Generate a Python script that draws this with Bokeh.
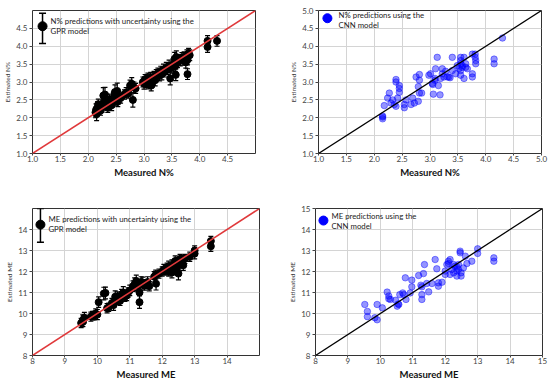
from bokeh.plotting import figure
from bokeh.layouts import column, row
from bokeh.models import (FixedTicker, PrintfTickFormatter, Slope, Whisker, TeeHead,
                          Range1d, Label, ColumnDataSource)
from bokeh.embed import file_html
from bokeh.resources import INLINE

# ---------------- data ----------------
# GPR, N%
gpr_n_meas = [2.13, 2.14, 2.15, 2.17, 2.18, 2.20, 2.22, 2.25, 2.27, 2.28, 2.30, 2.32, 2.35, 2.37,
              2.38, 2.40, 2.42, 2.45, 2.47, 2.48, 2.50, 2.52, 2.53, 2.55, 2.58, 2.65, 2.68, 2.72,
              2.75, 2.78, 2.80, 2.82, 2.85,
              2.98, 3.00, 3.02, 3.05, 3.07, 3.08, 3.10, 3.12, 3.13, 3.15, 3.18, 3.20, 3.22, 3.25,
              3.28, 3.30, 3.32, 3.35, 3.37, 3.40, 3.42, 3.45, 3.47, 3.50, 3.52, 3.55, 3.56, 3.57,
              3.58, 3.60, 3.62, 3.65, 3.68, 3.70, 3.72, 3.75, 3.77, 3.78, 3.80, 3.82, 3.78,
              4.14, 4.14, 4.31]
gpr_n_est = [2.15, 2.22, 2.10, 2.30, 2.38, 2.25, 2.20, 2.30, 2.62, 2.45, 2.65, 2.35, 2.28, 2.40,
             2.50, 2.45, 2.35, 2.55, 2.62, 2.72, 2.50, 2.75, 2.45, 2.58, 2.55, 2.65, 2.70, 2.68,
             2.90, 2.95, 2.50, 2.85, 2.82,
             3.00, 2.95, 3.08, 3.00, 3.10, 2.95, 3.05, 3.12, 2.90, 3.00, 3.15, 3.05, 3.20, 3.25,
             3.18, 3.30, 3.22, 3.35, 3.28, 3.40, 3.35, 3.45, 3.10, 3.40, 3.50, 3.65, 3.45, 3.20,
             3.70, 3.55, 3.62, 3.60, 3.68, 3.62, 3.70, 3.55, 3.75, 3.22, 3.80, 3.75, 3.62,
             4.15, 3.98, 4.15]
gpr_n_err = [0.15, 0.17, 0.18, 0.15, 0.14, 0.15, 0.13, 0.14, 0.22, 0.15, 0.20, 0.14, 0.13, 0.15,
             0.16, 0.14, 0.15, 0.16, 0.15, 0.20, 0.15, 0.22, 0.14, 0.15, 0.14, 0.13, 0.14, 0.13,
             0.15, 0.17, 0.20, 0.15, 0.14,
             0.14, 0.15, 0.13, 0.16, 0.15, 0.14, 0.17, 0.15, 0.15, 0.14, 0.15, 0.16, 0.15, 0.14,
             0.15, 0.14, 0.16, 0.15, 0.14, 0.15, 0.14, 0.16, 0.18, 0.15, 0.14, 0.18, 0.15, 0.16,
             0.17, 0.15, 0.14, 0.15, 0.14, 0.15, 0.14, 0.16, 0.15, 0.15, 0.14, 0.15, 0.14,
             0.15, 0.15, 0.15]

# CNN, N%
cnn_n_meas = [2.15, 2.15, 2.15, 2.18, 2.27, 2.24, 2.30, 2.33, 2.36, 2.39, 2.39, 2.39, 2.42,
              2.45, 2.45, 2.45, 2.54, 2.54, 2.57, 2.66, 2.69, 2.72, 2.75, 2.81, 2.81, 2.79,
              2.81, 2.85, 2.79, 2.98, 3.01, 3.04, 3.06, 3.09, 3.09, 3.13, 3.10, 3.15, 3.18,
              3.19, 3.22, 3.22, 3.25, 3.31, 3.34, 3.40, 3.40, 3.46, 3.49, 3.55, 3.55, 3.55,
              3.55, 3.55, 3.58, 3.58, 3.61, 3.61, 3.64, 3.64, 3.67, 3.76, 3.76, 3.76, 3.81,
              3.81, 3.82, 3.82, 4.15, 4.15, 4.30, 3.05, 3.36, 3.28, 3.52]
cnn_n_est = [2.05, 1.97, 2.02, 2.34, 2.69, 2.55, 2.41, 2.50, 2.37, 3.07, 3.00, 2.32, 2.55,
             2.90, 2.82, 2.71, 2.37, 2.28, 2.50, 2.37, 2.55, 2.41, 3.14, 3.21, 3.05, 2.87,
             2.69, 2.69, 2.46, 3.19, 3.23, 2.96, 2.66, 3.10, 3.05, 3.69, 3.37, 2.90, 2.64,
             3.10, 3.37, 3.23, 3.14, 3.14, 3.14, 3.69, 3.32, 3.23, 3.46, 3.69, 3.60, 3.51,
             3.32, 3.19, 3.46, 3.41, 3.69, 3.10, 3.51, 3.41, 3.37, 3.78, 3.23, 3.14, 3.78,
             3.69, 3.60, 3.51, 3.64, 3.51, 4.23, 2.93, 3.12, 3.30, 3.38]

# GPR, ME
gpr_me_meas = [9.50, 9.55, 9.60, 9.55, 9.80, 9.90, 9.95, 10.00, 9.85, 10.04, 10.20, 10.25, 10.30,
               10.35, 10.45, 10.50, 10.55, 10.60, 10.65, 10.70, 10.75, 10.80, 10.85, 10.90,
               10.95, 11.00, 11.15, 11.20, 11.25, 11.30, 11.30, 11.35, 11.40, 11.45, 11.50,
               11.55, 11.60, 11.75, 11.80, 11.81, 11.90, 12.00, 12.05, 12.10, 12.15, 12.20,
               12.25, 12.30, 12.35, 12.40, 12.45, 12.50, 12.50, 12.55, 12.60, 12.65, 12.70,
               12.40, 12.30, 12.55, 12.85, 13.00, 13.00, 13.50, 13.50, 11.10, 10.62, 12.20]
gpr_me_est = [9.55, 9.65, 9.80, 9.60, 9.85, 9.90, 10.00, 9.95, 9.90, 10.54, 10.95, 10.98, 10.25,
              10.30, 10.50, 10.40, 10.80, 10.65, 10.70, 10.60, 10.90, 11.00, 10.80, 10.85,
              11.00, 11.10, 11.40, 11.55, 11.30, 11.00, 10.54, 11.50, 11.45, 11.35, 11.40,
              11.50, 11.30, 11.75, 11.85, 11.42, 11.90, 12.00, 12.10, 12.05, 12.15, 12.25,
              12.10, 12.30, 12.20, 12.35, 12.10, 11.90, 12.45, 12.40, 12.55, 12.30, 12.60,
              12.50, 11.95, 12.60, 12.70, 12.85, 13.00, 13.45, 13.20, 11.30, 10.75, 12.00]
gpr_me_err = [0.22, 0.28, 0.25, 0.22, 0.22, 0.20, 0.22, 0.24, 0.20, 0.25, 0.30, 0.28, 0.22,
              0.20, 0.22, 0.25, 0.28, 0.22, 0.24, 0.22, 0.25, 0.28, 0.22, 0.24,
              0.22, 0.25, 0.30, 0.28, 0.25, 0.35, 0.30, 0.25, 0.28, 0.24, 0.22,
              0.25, 0.22, 0.25, 0.22, 0.30, 0.22, 0.22, 0.24, 0.22, 0.25, 0.24,
              0.22, 0.25, 0.22, 0.24, 0.25, 0.30, 0.22, 0.24, 0.22, 0.25, 0.22,
              0.24, 0.25, 0.22, 0.22, 0.25, 0.22, 0.22, 0.24, 0.25, 0.28, 0.22]

# CNN, ME
cnn_me_meas = [9.52, 9.60, 9.60, 9.90, 9.83, 9.90, 10.06, 10.21, 10.26, 10.26, 10.31, 10.47,
               10.52, 10.57, 10.60, 10.69, 10.72, 10.77, 10.79, 10.92, 10.97, 10.97, 11.18,
               11.28, 11.28, 11.28, 11.33, 11.36, 11.43, 11.49, 11.59, 11.69, 11.74, 11.79,
               11.79, 11.90, 12.00, 12.00, 12.05, 12.10, 12.10, 12.15, 12.15, 12.20, 12.26,
               12.26, 12.36, 12.36, 12.36, 12.41, 12.41, 12.46, 12.46, 12.49, 12.49, 12.56,
               12.62, 12.67, 12.82, 13.00, 13.00, 13.50, 13.50, 10.55, 11.25, 12.30]
cnn_me_est = [10.43, 10.10, 9.85, 10.43, 9.80, 9.70, 10.27, 11.02, 10.83, 10.70, 10.67, 10.63,
              10.35, 10.43, 10.90, 10.98, 10.90, 11.70, 10.67, 10.98, 11.59, 11.27, 11.81,
              11.27, 10.90, 10.67, 11.90, 12.33, 11.43, 11.03, 11.43, 12.57, 12.13, 11.46,
              11.30, 11.49, 12.02, 11.86, 12.33, 12.49, 12.38, 12.57, 11.86, 12.10, 12.33,
              11.94, 12.22, 12.02, 11.78, 12.33, 12.10, 12.97, 12.89, 11.78, 11.94, 12.17,
              12.73, 12.38, 12.49, 13.08, 12.86, 12.65, 12.49, 10.45, 11.35, 12.25]

N_TICKS_GPR = [1.0, 1.5, 2.0, 2.5, 3.0, 3.5, 4.0, 4.5]
N_TICKS_CNN = [1.0, 1.5, 2.0, 2.5, 3.0, 3.5, 4.0, 4.5, 5.0]
ME_TICKS_GPR = [8, 9, 10, 11, 12, 13, 14]
ME_TICKS_CNN = [8, 9, 10, 11, 12, 13, 14, 15]

# ---------------- style ----------------
FONT = "Lato"
TICK_COLOR = "#444444"
GRID_COLOR = "#d4d4d4"
RED = "#e0393b"
BLUE = "#0000ff"


def make_fig(width, height, lo, hi, ticks, fmt, borders, xlabel, ylabel):
    l, r, t, b = borders
    p = figure(width=width, height=height, x_range=Range1d(lo, hi), y_range=Range1d(lo, hi),
               output_backend="svg", toolbar_location=None, tools="",
               min_border_left=l, min_border_right=r, min_border_top=t, min_border_bottom=b)
    p.extra_x_ranges = {"key": Range1d(0, 1)}
    p.extra_y_ranges = {"key": Range1d(0, 1)}
    p.background_fill_color = "white"
    p.border_fill_color = "white"
    p.outline_line_color = "#333333"
    p.outline_line_width = 1
    for ax in (p.xaxis[0], p.yaxis[0]):
        ax.ticker = FixedTicker(ticks=ticks)
        ax.formatter = PrintfTickFormatter(format=fmt)
        ax.major_label_text_font = FONT
        ax.major_label_text_font_size = "8px"
        ax.major_label_text_color = TICK_COLOR
        ax.axis_line_color = None
        ax.major_tick_line_color = TICK_COLOR
        ax.major_tick_in = 0
        ax.minor_tick_line_color = None
        ax.axis_label_text_font = FONT
    p.xaxis.major_tick_out = 2
    p.xaxis.major_label_standoff = 0
    p.yaxis.major_tick_out = 3
    p.yaxis.major_label_standoff = 2
    p.xaxis.axis_label = xlabel
    p.xaxis.axis_label_text_font_style = "bold"
    p.xaxis.axis_label_text_font_size = "9.5px"
    p.xaxis.axis_label_text_color = "#111111"
    p.xaxis.axis_label_standoff = 2
    p.yaxis.axis_label = ylabel
    p.yaxis.axis_label_text_font_style = "normal"
    p.yaxis.axis_label_text_font_size = "6.5px"
    p.yaxis.axis_label_text_color = "#333333"
    p.yaxis.axis_label_standoff = 2
    p.grid.grid_line_color = GRID_COLOR
    p.grid.grid_line_width = 1
    return p


def add_text(p, x, y1, y2, line1, line2):
    for yy, txt in ((y1, line1), (y2, line2)):
        p.add_layout(Label(x=x, y=yy, x_range_name="key", y_range_name="key", text=txt,
                           text_font=FONT, text_font_size="7.8px", text_color="#222222",
                           text_baseline="middle", text_align="left"))


def gpr_panel(p, meas, est, err, key):
    p.add_layout(Slope(gradient=1, y_intercept=0, line_color=RED, line_width=1.5))
    lower = [e - d for e, d in zip(est, err)]
    upper = [e + d for e, d in zip(est, err)]
    src = ColumnDataSource(dict(x=meas, y=est, lower=lower, upper=upper))
    p.add_layout(Whisker(source=src, base="x", lower="lower", upper="upper",
                         line_color="black", line_width=1.2,
                         upper_head=TeeHead(size=5, line_color="black", line_width=1.2),
                         lower_head=TeeHead(size=5, line_color="black", line_width=1.2)))
    p.scatter("x", "y", source=src, size=7, fill_color="black", line_color="black")
    kx, ky, kb, kt = key
    ksrc = ColumnDataSource(dict(x=[kx], y=[ky], lower=[kb], upper=[kt]))
    p.add_layout(Whisker(source=ksrc, base="x", lower="lower", upper="upper",
                         x_range_name="key", y_range_name="key",
                         line_color="black", line_width=1.5,
                         upper_head=TeeHead(size=7, line_color="black", line_width=1.5),
                         lower_head=TeeHead(size=7, line_color="black", line_width=1.5)))
    p.scatter("x", "y", source=ksrc, x_range_name="key", y_range_name="key",
              size=9, fill_color="black", line_color="black")


def cnn_panel(p, meas, est, key):
    p.add_layout(Slope(gradient=1, y_intercept=0, line_color="black", line_width=1.3))
    p.scatter(meas, est, size=6.5, fill_color=BLUE, fill_alpha=0.42,
              line_color=BLUE, line_alpha=0.42)
    kx, ky = key
    p.scatter([kx], [ky], x_range_name="key", y_range_name="key",
              size=9, fill_color=BLUE, line_color=BLUE)


# layout: page origin at (0, 0); left column 275 px, right column 274 px
p1 = make_fig(275, 192, 1.0, 5.0, N_TICKS_GPR, "%.1f", (32, 20, 7, 39),
              "Measured N%", "Estimated N%")
gpr_panel(p1, gpr_n_meas, gpr_n_est, gpr_n_err, (0.045, 0.89, 0.77, 0.98))
add_text(p1, 0.081, 0.925, 0.856, "N% predictions with uncertainty using the", "GPR model")

p2 = make_fig(274, 192, 1.0, 5.0, N_TICKS_CNN, "%.1f", (43, 8, 10, 35),
              "Measured N%", "Estimated N%")
cnn_panel(p2, cnn_n_meas, cnn_n_est, (0.04, 0.946))
add_text(p2, 0.09, 0.966, 0.898, "N% predictions using the", "CNN model")

p3 = make_fig(275, 191, 8, 15, ME_TICKS_GPR, "%d", (32, 16, 15, 28),
              "Measured ME", "Estimated ME")
gpr_panel(p3, gpr_me_meas, gpr_me_est, gpr_me_err, (0.035, 0.89, 0.77, 1.0))
add_text(p3, 0.07, 0.926, 0.858, "ME predictions with uncertainty using the", "GPR model")

p4 = make_fig(274, 191, 8, 15, ME_TICKS_CNN, "%d", (40, 7, 16, 28),
              "Measured ME", "Estimated ME")
cnn_panel(p4, cnn_me_meas, cnn_me_est, (0.035, 0.918))
add_text(p4, 0.07, 0.952, 0.884, "ME predictions using the", "CNN model")

layout = column(row(p1, p2), row(p3, p4))
open("out.html", "w").write(file_html(layout, INLINE))
